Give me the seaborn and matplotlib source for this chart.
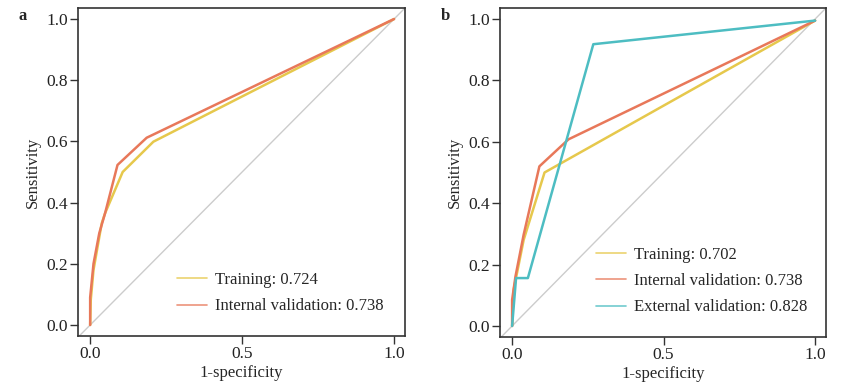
import matplotlib
matplotlib.use("Agg")
import matplotlib.pyplot as plt
import seaborn as sns
import pandas as pd

# ---- data ----
a_train_fpr = [0.0, 0.002, 0.011, 0.038, 0.049, 0.107, 0.208, 1.0]
a_train_tpr = [0.0, 0.082, 0.18, 0.332, 0.365, 0.50, 0.599, 1.0]
a_int_fpr = [0.0, 0.0, 0.011, 0.03, 0.049, 0.09, 0.186, 1.0]
a_int_tpr = [0.0, 0.09, 0.20, 0.30, 0.365, 0.523, 0.612, 1.0]

b_train_fpr = [0.0, 0.005, 0.038, 0.107, 1.0]
b_train_tpr = [0.0, 0.118, 0.28, 0.50, 0.995]
b_int_fpr = [0.0, 0.0, 0.011, 0.038, 0.09, 0.186, 1.0]
b_int_tpr = [0.0, 0.085, 0.161, 0.297, 0.52, 0.608, 0.995]
b_ext_fpr = [0.0, 0.013, 0.052, 0.268, 1.0]
b_ext_tpr = [0.0, 0.156, 0.156, 0.918, 0.995]

a_labels = ["Training: 0.724", "Internal validation: 0.738"]
b_labels = ["Training: 0.702", "Internal validation: 0.738", "External validation: 0.828"]
panel_letters = ["a", "b"]
ticks = [0.0, 0.5, 1.0]
yticks = [0.0, 0.2, 0.4, 0.6, 0.8, 1.0]

colors = ["#E6C84C", "#E8785A", "#4DBDC2"]

sns.set_theme(style="ticks")
plt.rcParams["font.family"] = ["Liberation Serif", "DejaVu Serif"]
plt.rcParams["font.size"] = 12

fig = plt.figure(figsize=(8.56, 3.87), dpi=100)
ax_a = fig.add_axes([78/856, 51/387, 327/856, 328/387])
ax_b = fig.add_axes([500/856, 50/387, 326/856, 329/387])


def make_df(fprs, tprs, labels):
    rows = []
    for f, t, lab in zip(fprs, tprs, labels):
        for i, (x, y) in enumerate(zip(f, t)):
            rows.append({"fpr": x, "tpr": y, "model": lab, "order": i})
    return pd.DataFrame(rows)


df_a = make_df([a_train_fpr, a_int_fpr], [a_train_tpr, a_int_tpr], a_labels)
df_b = make_df([b_train_fpr, b_int_fpr, b_ext_fpr], [b_train_tpr, b_int_tpr, b_ext_tpr], b_labels)

for ax, df, labels, letter, anchor_x in [(ax_a, df_a, a_labels, "a", 0.98),
                                         (ax_b, df_b, b_labels, "b", 0.99)]:
    ax.axline((0, 0), (1, 1), color="#cccccc", lw=1.0, zorder=1)
    sns.lineplot(data=df, x="fpr", y="tpr", hue="model", hue_order=labels,
                 palette=colors[:len(labels)], sort=False, estimator=None,
                 units="model", lw=1.8, ax=ax, zorder=3)
    ax.set_xlim(-0.04, 1.036)
    ax.set_ylim(-0.036, 1.036)
    ax.set_xticks(ticks)
    ax.set_xticklabels(["0.0", "0.5", "1.0"])
    ax.set_yticks(yticks)
    ax.set_yticklabels([f"{v:.1f}" for v in yticks])
    ax.set_xlabel("1-specificity", fontsize=12, labelpad=2)
    ax.set_ylabel("Sensitivity", fontsize=12, labelpad=4)
    for s in ax.spines.values():
        s.set_color("#333333")
        s.set_linewidth(1.2)
    ax.tick_params(axis="both", colors="#333333", labelcolor="#222222",
                   length=6, width=1.0, labelsize=12.5, pad=1.5)
    leg = ax.legend(loc="lower right", frameon=False, fontsize=12,
                    handlelength=1.8, handletextpad=0.5, labelspacing=0.62,
                    bbox_to_anchor=(anchor_x, 0.02))
    for h in leg.get_lines():
        h.set_linewidth(1.2)
        h.set_alpha(0.8)
    ax.text(-0.183, 1.0, letter, transform=ax.transAxes, fontsize=12,
            fontweight="bold", ha="left", va="top")

fig.savefig("out.png", dpi=100)
